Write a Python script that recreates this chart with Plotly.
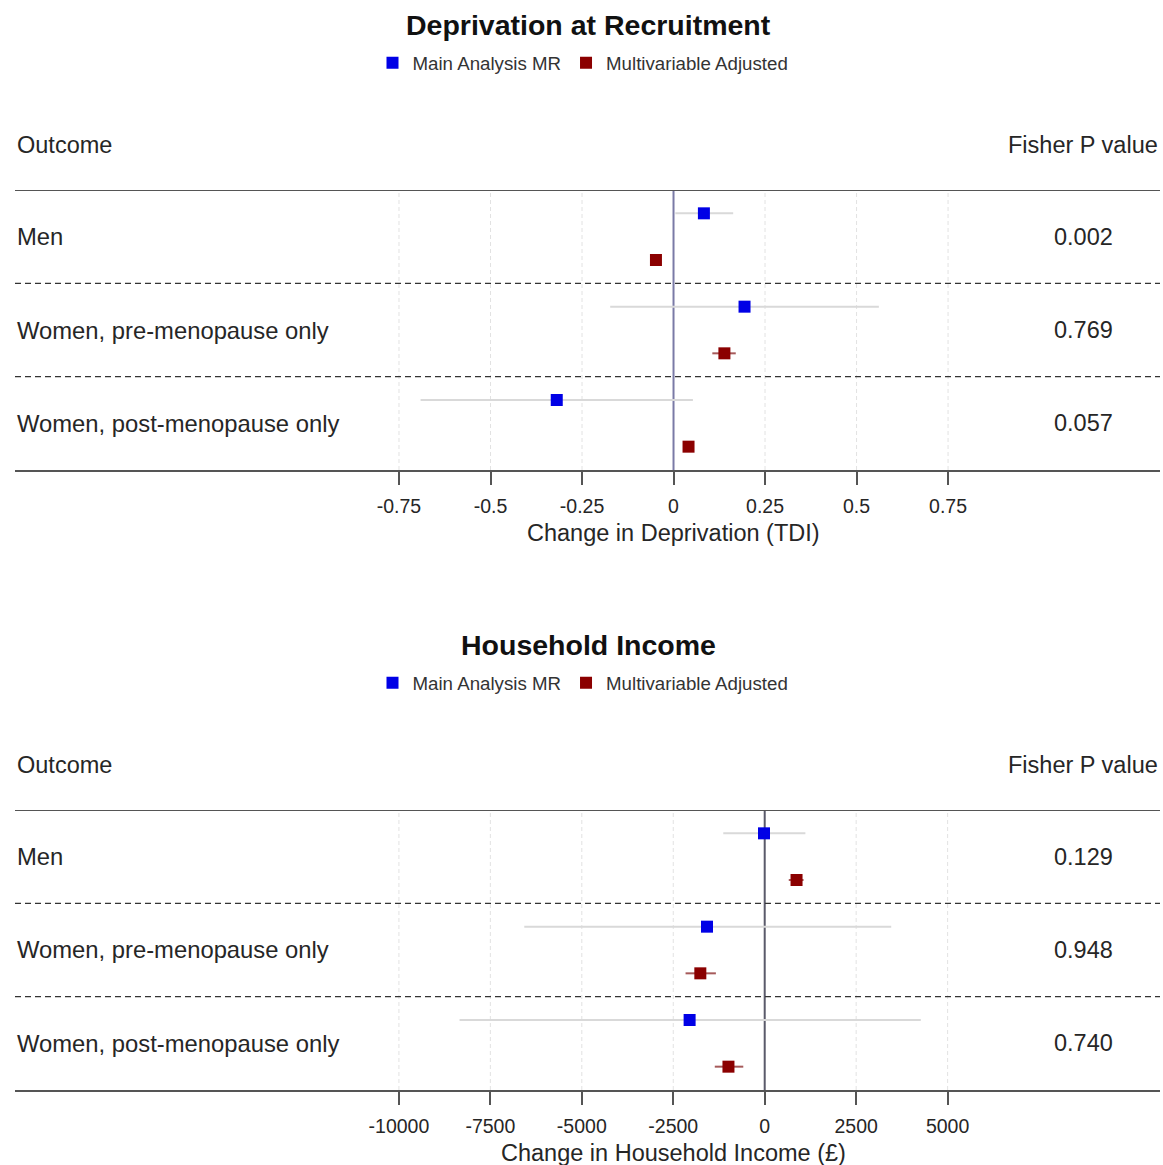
import plotly.graph_objects as go

# ---------------- data ----------------
categories = ["Men", "Women, pre-menopause only", "Women, post-menopause only"]
series_names = ["Main Analysis MR", "Multivariable Adjusted"]

# Panel 1: Deprivation at Recruitment (TDI)
dep_mr_est = [0.083, 0.194, -0.319]
dep_mr_lo = [0.005, -0.173, -0.691]
dep_mr_hi = [0.163, 0.561, 0.053]
dep_mv_est = [-0.048, 0.139, 0.041]
dep_mv_lo = [-0.056, 0.106, 0.030]
dep_mv_hi = [-0.040, 0.170, 0.052]
dep_p = ["0.002", "0.769", "0.057"]
dep_ticks = [-0.75, -0.5, -0.25, 0, 0.25, 0.5, 0.75]
dep_ticklabels = ["-0.75", "-0.5", "-0.25", "0", "0.25", "0.5", "0.75"]

# Panel 2: Household Income (GBP)
inc_mr_est = [-20, -1578, -2053]
inc_mr_lo = [-1133, -6573, -8342]
inc_mr_hi = [1112, 3458, 4267]
inc_mv_est = [870, -1760, -991]
inc_mv_lo = [657, -2164, -1365]
inc_mv_hi = [1062, -1335, -586]
inc_p = ["0.129", "0.948", "0.740"]
inc_ticks = [-10000, -7500, -5000, -2500, 0, 2500, 5000]
inc_ticklabels = ["-10000", "-7500", "-5000", "-2500", "0", "2500", "5000"]

# ---------------- layout helpers ----------------
OFF = 0
W, H = 1163, 1165
FONT = "Liberation Sans, Arial, Helvetica, sans-serif"
TXT = "#262626"
BLUE = "#0000E6"
RED = "#8B0000"


def py(px):
    return 1 - (px - OFF) / H


def pxx(px):
    return (px - OFF) / W


XL, XR = pxx(15), pxx(1160)
n = len(categories)
row_center = [2 * (n - 1 - i) + 1 for i in range(n)]
y_mr = [c + 0.5 for c in row_center]
y_mv = [c - 0.5 for c in row_center]

fig = go.Figure()

panels = [
    dict(title="Deprivation at Recruitment", xtitle="Change in Deprivation (TDI)",
         mr=(dep_mr_est, dep_mr_lo, dep_mr_hi), mv=(dep_mv_est, dep_mv_lo, dep_mv_hi),
         p=dep_p, ticks=dep_ticks, ticklabels=dep_ticklabels,
         xrange=[-1.799, 1.329], top=0, legend="legend", zc="#7a7aa6"),
    dict(title="Household Income", xtitle="Change in Household Income (£)",
         mr=(inc_mr_est, inc_mr_lo, inc_mr_hi), mv=(inc_mv_est, inc_mv_lo, inc_mv_hi),
         p=inc_p, ticks=inc_ticks, ticklabels=inc_ticklabels,
         xrange=[-20495, 10806], top=620, legend="legend2", zc="#5a5a6a"),
]

shapes = []
annotations = []
layout_axes = {}

for k, pn in enumerate(panels):
    xa = "x" if k == 0 else "x2"
    ya = "y" if k == 0 else "y2"
    off = pn["top"]
    for name, (est, lo, hi), yy, col, ecol in [
        (series_names[0], pn["mr"], y_mr, BLUE, "#d9d9d9"),
        (series_names[1], pn["mv"], y_mv, RED, "#a65a5a"),
    ]:
        fig.add_trace(go.Scatter(
            x=est, y=yy, mode="markers", name=name, xaxis=xa, yaxis=ya,
            legend=pn["legend"],
            marker=dict(symbol="square", size=12, color=col, line=dict(width=0)),
            error_x=dict(type="data", symmetric=False,
                         array=[h - e for h, e in zip(hi, est)],
                         arrayminus=[e - l for e, l in zip(est, lo)],
                         color=ecol, thickness=2, width=0),
            hoverinfo="x+name",
        ))

    top_px, bot_px = 190 + off, 470 + off
    axname = "xaxis" if k == 0 else "xaxis2"
    ayname = "yaxis" if k == 0 else "yaxis2"
    layout_axes[axname] = dict(
        domain=[XL, XR], anchor=ya, range=pn["xrange"],
        tickmode="array", tickvals=pn["ticks"], ticktext=pn["ticklabels"],
        ticks="outside", ticklen=13, tickwidth=1.5, tickcolor="#555555",
        ticklabelstandoff=5,
        showline=True, linecolor="#555555", linewidth=2,
        showgrid=False, zeroline=False,
        tickfont=dict(family=FONT, size=19.5, color=TXT),
        fixedrange=True,
    )
    layout_axes[ayname] = dict(
        domain=[py(bot_px), py(top_px)], anchor=xa, range=[0, 2 * n],
        showticklabels=False, showgrid=False, zeroline=False, showline=False,
        fixedrange=True,
    )

    # light dashed vertical grid lines at the non-zero ticks
    for tv in pn["ticks"]:
        if tv != 0:
            shapes.append(dict(type="line", xref=xa, yref=ya, x0=tv, x1=tv, y0=0, y1=2 * n,
                               line=dict(color="#e2e2e2", width=1, dash="4px,3px"),
                               layer="below"))
    # top solid line
    shapes.append(dict(type="line", xref="paper", yref=ya, x0=XL, x1=XR, y0=2 * n, y1=2 * n,
                       line=dict(color="#555555", width=2)))
    # dashed separators
    for i in range(1, n):
        yv = 2 * i
        shapes.append(dict(type="line", xref="paper", yref=ya, x0=XL, x1=XR, y0=yv, y1=yv,
                           line=dict(color="#333333", width=1.3, dash="6px,4px")))
    # zero line
    shapes.append(dict(type="line", xref=xa, yref=ya, x0=0, x1=0, y0=0, y1=2 * n,
                       line=dict(color=pn["zc"], width=2), layer="below"))

    # title
    annotations.append(dict(text="<b>" + pn["title"] + "</b>", xref="paper", yref="paper",
                            x=pxx(588), y=py(25 + off), showarrow=False,
                            xanchor="center", yanchor="middle",
                            font=dict(family=FONT, size=28.5, color="#111111")))
    # headers
    annotations.append(dict(text="Outcome", xref="paper", yref="paper", x=XL, y=py(145 + off),
                            showarrow=False, xanchor="left", yanchor="middle",
                            font=dict(family=FONT, size=23.5, color=TXT)))
    annotations.append(dict(text="Fisher P value", xref="paper", yref="paper", x=XR, y=py(145 + off),
                            showarrow=False, xanchor="right", yanchor="middle",
                            font=dict(family=FONT, size=23.5, color=TXT)))
    # row labels and p values
    for i, cat in enumerate(categories):
        annotations.append(dict(text=cat, xref="paper", yref=ya, x=XL, y=row_center[i],
                                showarrow=False, xanchor="left", yanchor="middle",
                                font=dict(family=FONT, size=23.8, color=TXT)))
        annotations.append(dict(text=pn["p"][i], xref="paper", yref=ya, x=pxx(1083), y=row_center[i],
                                showarrow=False, xanchor="center", yanchor="middle",
                                font=dict(family=FONT, size=23.5, color=TXT)))
    # axis title
    annotations.append(dict(text=pn["xtitle"], xref="paper", yref="paper", x=pxx(673),
                            y=py(533 + off), showarrow=False, xanchor="center", yanchor="middle",
                            font=dict(family=FONT, size=23.5, color=TXT)))

legend_common = dict(orientation="h", xanchor="center", yanchor="middle",
                     font=dict(family=FONT, size=18.7, color="#333333"),
                     bgcolor="rgba(0,0,0,0)", itemclick=False, itemdoubleclick=False)

fig.update_layout(
    width=W, height=H, margin=dict(l=0, r=0, t=0, b=0),
    paper_bgcolor="white", plot_bgcolor="white",
    showlegend=True,
    legend=dict(x=pxx(583), y=py(63), **legend_common),
    legend2=dict(x=pxx(583), y=py(683), **legend_common),
    shapes=shapes, annotations=annotations,
    font=dict(family=FONT, color=TXT),
    **layout_axes,
)

# remove the default 8px page margin so the figure fills the window exactly
fig.write_html("out.html", config={"displayModeBar": False},
               post_script="document.body.style.margin='0';document.body.style.overflow='hidden';")
